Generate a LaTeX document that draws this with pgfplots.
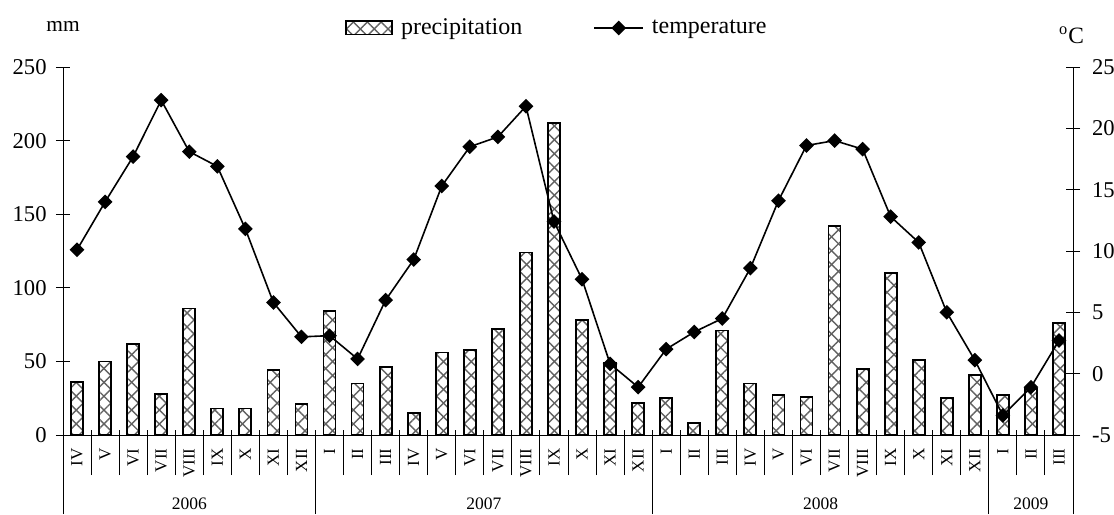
\documentclass[border=0pt]{standalone}
\usepackage{fontspec}
\setmainfont{Liberation Serif}
\usepackage{pgfplots}
\pgfplotsset{compat=1.18}
\usetikzlibrary{patterns.meta}
\tikzset{pbar/.style={draw=black, line width=0.9pt,
  pattern={Lines[angle=45,distance=4.9pt,line width=0.7pt]}, pattern color=black!62,
  postaction={pattern={Lines[angle=-45,distance=4.9pt,line width=0.7pt]}, pattern color=black!62}},
  tline/.style={black, line width=0.8pt, mark=square*, mark size=2.2pt, mark options={rotate=45, solid}}}
\begin{document}
\begin{tikzpicture}
\begin{axis}[
  scale only axis, width=505pt, height=184pt,
  xmin=-0.5, xmax=35.5, ymin=0, ymax=250,
  clip=false,
  axis y line*=left, axis x line*=bottom, axis line style={-, line width=0.5pt},
  ytick={0,50,...,250},
  xtick={0,...,35},
  xticklabels={IV,V,VI,VII,VIII,IX,X,XI,XII,I,II,III,IV,V,VI,VII,VIII,IX,X,XI,XII,I,II,III,IV,V,VI,VII,VIII,IX,X,XI,XII,I,II,III},
  minor xtick={0.5,1.5,...,34.5},
  tick align=center, major tick length=7pt, minor tick length=22.5pt,
  every tick/.append style={black, line width=0.5pt},
  major x tick style={draw=none},
  minor x tick style={yshift=-8.75pt},
  xticklabel style={rotate=90, anchor=east, inner sep=0pt, font=\fontsize{8.5}{10}\selectfont},
  xticklabel shift=3pt,
  yticklabel style={inner sep=0pt, font=\fontsize{11.3}{13}\selectfont},
  yticklabel shift=4.5pt,
  /pgf/number format/assume math mode=true,
]
\addplot[ybar, bar width=6pt, pbar] coordinates {
(0,36) (1,50) (2,62) (3,28) (4,86) (5,18) (6,18) (7,44) (8,21)
(9,84) (10,35) (11,46) (12,15) (13,56) (14,58) (15,72) (16,124) (17,212) (18,78) (19,49) (20,22)
(21,25) (22,8) (23,71) (24,35) (25,27) (26,26) (27,142) (28,45) (29,110) (30,51) (31,25) (32,41)
(33,27) (34,31) (35,76)};
\node[anchor=base, font=\fontsize{10.7}{12}\selectfont] at (rel axis cs:0,1.0978) {mm};
\end{axis}
\begin{axis}[
  scale only axis, width=505pt, height=184pt,
  xmin=-0.5, xmax=35.5, ymin=-5, ymax=25,
  axis y line*=right, axis x line*=bottom, axis line style={-, line width=0.5pt},
  ytick pos=right, yticklabel pos=right,
  ytick={-5,0,...,25},
  xtick={4,14.5,26.5,34}, xticklabels={2006,2007,2008,2009},
  minor xtick={-0.5,8.5,20.5,32.5,35.5},
  tick align=center, major tick length=7pt, minor tick length=39.5pt,
  every tick/.append style={black, line width=0.5pt},
  major x tick style={draw=none},
  minor x tick style={yshift=-19.75pt},
  xticklabel style={anchor=north, inner sep=0pt, font=\fontsize{8.75}{10}\selectfont},
  xticklabel shift=27.5pt,
  yticklabel style={inner sep=0pt, anchor=west, font=\fontsize{11.3}{13}\selectfont},
  yticklabel shift=5.8pt,
  /pgf/number format/assume math mode=true,
  clip=false,
  legend style={draw=none, fill=none, at={(0.49,1.106)}, anchor=center,
    legend columns=2, font=\fontsize{12}{14}\selectfont,
    /tikz/every odd column/.append style={column sep=2pt},
    /tikz/every even column/.append style={column sep=33.5pt}},
  legend cell align=left,
]
\addlegendimage{legend image code/.code={\draw[pbar] (0pt,-3.3pt) rectangle (23pt,3.3pt);}}
\addlegendentry{precipitation}
\addplot[tline,
  legend image code/.code={\draw[tline, mark repeat=2, mark phase=2] plot coordinates {(0pt,0pt) (12.25pt,0pt) (24.5pt,0pt)};}]
coordinates {
(0,10.1) (1,14.0) (2,17.7) (3,22.3) (4,18.1) (5,16.9) (6,11.8) (7,5.8) (8,3.0)
(9,3.1) (10,1.2) (11,6.0) (12,9.3) (13,15.3) (14,18.5) (15,19.3) (16,21.8) (17,12.4) (18,7.7) (19,0.8) (20,-1.1)
(21,2.0) (22,3.4) (23,4.5) (24,8.6) (25,14.1) (26,18.6) (27,19.0) (28,18.3) (29,12.8) (30,10.7) (31,5.0) (32,1.1)
(33,-3.4) (34,-1.1) (35,2.7)};
\addlegendentry{temperature}
\node[anchor=base, font=\fontsize{11.7}{13}\selectfont] at (rel axis cs:0.9985,1.0652) {\textsuperscript{o}C};
\coordinate (bl) at (rel axis cs:-0.06238,-0.21467);
\coordinate (tr) at (rel axis cs:1.04059,1.18207);
\end{axis}
\pgfresetboundingbox
\path[use as bounding box] (bl) rectangle (tr);
\end{tikzpicture}
\end{document}
